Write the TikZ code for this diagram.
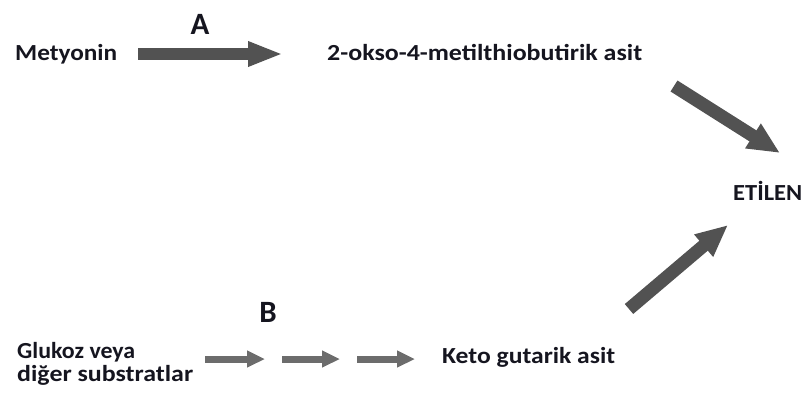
\documentclass[tikz,border=0pt]{standalone}
\usepackage{fontspec}
\setmainfont{Carlito}
\usetikzlibrary{arrows.meta}
\definecolor{txt}{HTML}{15151F}
\definecolor{arrdark}{HTML}{525252}
\definecolor{arrlight}{HTML}{6C6C6C}
\tikzset{
  lbl/.style={font=\bfseries\fontsize{23}{23}\selectfont, text=txt, inner sep=0pt, anchor=base west},
  letter/.style={font=\bfseries\fontsize{31}{34}\selectfont, text=txt, inner sep=0pt},
  bigarrow/.style={draw=arrdark, line width=12pt, -{Triangle[length=35pt,width=23pt]}},
  diagarrow/.style={draw=arrdark, line width=13pt, -{Triangle[length=32pt,width=27pt]}},
  smallarrow/.style={draw=arrlight, line width=7pt, -{Triangle[length=18pt,width=16pt]}}
}
\newcommand{\fitw}[2]{\resizebox{#1}{\height}{#2}}
\begin{document}
\begin{tikzpicture}[x=1pt,y=-1pt]
\useasboundingbox (0,0) rectangle (805,396);
\node[lbl] (met) at (15,60) {\fitw{102pt}{Metyonin}};
\node[lbl] (okso) at (327,60) {\fitw{315pt}{2-okso-4-metilthiobutirik asit}};
\node[lbl] (eti) at (733,200) {\fitw{69pt}{ETİLEN}};
\node[lbl] (glu) at (17,358) {\fitw{118pt}{Glukoz veya}};
\node[lbl] (dig) at (17,381) {\fitw{176pt}{diğer substratlar}};
\node[lbl] (keto) at (442,363) {\fitw{173pt}{Keto gutarik asit}};
\node[letter] (A) at (200,24) {A};
\node[letter] (B) at (268,312) {B};
\coordinate (a1) at (138,54);
\coordinate (a2) at (283,54);
\coordinate (d1) at (674,86);
\coordinate (d2) at (780,153);
\coordinate (u1) at (629,309);
\coordinate (u2) at (728,225);
\coordinate (s1) at (205,359);
\coordinate (s2) at (265,359);
\coordinate (s3) at (282,359);
\coordinate (s4) at (340,359);
\coordinate (s5) at (357,359);
\coordinate (s6) at (415,359);
\draw[bigarrow] (a1) -- (a2);
\draw[diagarrow] (d1) -- (d2);
\draw[diagarrow] (u1) -- (u2);
\draw[smallarrow] (s1) -- (s2);
\draw[smallarrow] (s3) -- (s4);
\draw[smallarrow] (s5) -- (s6);
\end{tikzpicture}
\end{document}
